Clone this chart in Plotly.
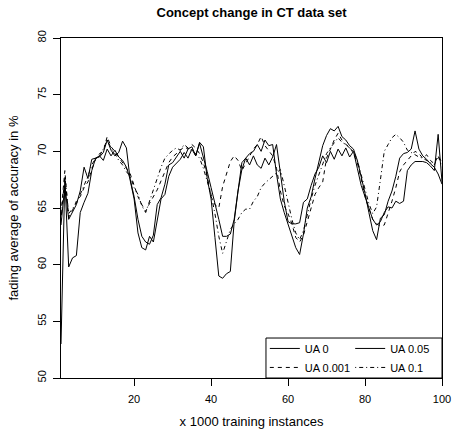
import plotly.graph_objects as go

x_vals = list(range(1, 101))

ua_0 = [53.0, 67.6, 59.8, 60.6, 60.8, 64.6, 65.5, 66.3, 68.3, 69.4,
        69.5, 69.9, 71.0, 70.1, 69.6, 69.9, 70.9, 70.3, 67.4, 65.8,
        62.8, 61.5, 61.3, 62.5, 62.0, 64.0, 65.8, 66.2, 67.8, 68.6,
        69.0, 69.3, 69.9, 69.4, 70.2, 69.6, 70.8, 70.4, 67.6, 65.8,
        62.4, 59.0, 58.8, 59.2, 59.4, 63.8, 66.5, 68.4, 69.4, 69.8,
        70.0, 70.6, 70.0, 71.0, 70.5, 70.6, 68.0, 65.8, 64.6, 63.5,
        62.4, 61.5, 60.9, 62.7, 65.0, 66.0, 67.6, 69.0, 70.5, 71.4,
        72.0, 71.8, 72.2, 71.3, 71.0, 70.5, 70.2, 69.2, 67.8, 66.3,
        64.6, 63.0, 62.2, 64.1, 64.4, 65.6, 66.5, 67.8, 69.4, 69.8,
        69.9, 70.2, 71.8, 70.2, 69.6, 69.3, 68.9, 68.6, 68.0, 67.1]

ua_0001 = [64.5, 68.3, 64.2, 64.8, 65.6, 66.0, 66.8, 67.3, 68.4, 69.3,
           69.8, 70.0, 71.3, 70.4, 70.0, 69.5, 69.0, 68.6, 68.0, 67.0,
           66.0, 65.3, 64.7, 65.4, 66.0, 66.6, 67.4, 68.2, 69.0, 69.5,
           69.8, 70.1, 70.4, 70.2, 70.6, 70.3, 69.8, 69.0, 67.8, 66.0,
           65.3, 65.0, 66.9, 68.0, 69.1, 69.6, 69.2, 68.3, 68.9, 69.5,
           70.2, 70.6, 71.3, 70.5, 70.0, 69.6, 68.5, 66.5, 65.2, 64.5,
           63.6, 62.4, 62.0, 62.6, 63.8, 65.0, 66.2, 66.8, 67.3, 69.4,
           70.2, 71.0, 71.6, 71.0, 70.6, 70.4, 69.8, 69.0, 67.6, 66.0,
           65.0, 64.0, 63.6, 63.4, 63.5, 64.5, 65.6, 66.8, 68.2, 68.8,
           69.2, 69.6, 70.0, 69.8, 69.4, 69.7, 69.2, 68.9, 69.6, 69.0]

ua_005 = [63.5, 67.0, 64.0, 64.6, 65.3, 66.5, 68.6, 67.6, 69.3, 69.4,
          69.6, 69.2, 70.2, 69.6, 70.1, 69.5, 69.2, 68.6, 67.5, 66.0,
          64.0, 62.5, 62.0, 61.8, 62.6, 65.3, 65.9, 67.1, 68.8, 69.0,
          69.5, 70.0, 69.4, 70.2, 70.4, 69.6, 70.7, 69.5, 68.2, 66.8,
          65.5, 64.0, 62.5, 62.5, 62.7, 64.0, 66.5, 69.0, 69.4, 68.8,
          69.6, 68.8, 68.5, 69.4, 68.8, 69.5, 70.6, 68.0, 65.6, 63.8,
          63.6, 63.6, 63.7, 65.5, 65.8, 67.0, 68.0, 68.6, 69.6, 69.0,
          70.0, 69.3, 70.2, 69.6, 70.3, 69.5, 70.0, 68.5, 67.0, 66.0,
          65.0, 64.0, 63.5, 63.8, 64.6, 65.1, 65.0, 65.6, 65.4, 65.6,
          68.3, 68.8, 69.1, 69.1, 69.1, 69.0, 68.7, 68.3, 71.5, 67.3]

ua_01 = [64.0, 67.8, 64.5, 65.0, 65.4, 66.2, 67.0, 67.8, 68.8, 69.4,
         69.6, 70.2, 71.0, 70.3, 69.8, 69.2, 68.8, 68.2, 67.8, 66.8,
         66.2, 65.2, 64.6, 65.6, 66.6, 67.8, 68.6, 69.4, 69.8, 70.1,
         70.3, 70.1, 70.6, 70.3, 70.0, 69.8, 69.4, 68.5, 67.3, 66.2,
         64.5, 62.5, 61.0, 62.0, 63.1, 63.6, 64.0, 64.6, 64.9, 64.9,
         65.6, 66.0, 66.8, 67.2, 67.5, 67.8, 68.1, 68.4, 67.0, 65.5,
         64.0, 62.8, 62.2, 63.0, 64.5, 65.8, 67.0, 68.0, 69.0, 69.8,
         70.3, 70.8, 71.2, 70.8, 70.6, 70.3, 70.0, 69.2, 68.0, 66.6,
         65.4, 64.5, 65.1, 67.5, 70.0, 70.6, 71.2, 71.5, 71.2, 70.8,
         70.1, 69.9, 69.7, 69.5, 69.4, 69.2, 69.0, 68.8, 69.6, 68.6]

x_ticks = [20, 40, 60, 80, 100]
y_ticks = [50, 55, 60, 65, 70, 75, 80]

FONT = "Liberation Sans, Arial, Helvetica, sans-serif"

fig = go.Figure()
series = [
    ("UA 0", ua_0, "solid", "legend"),
    ("UA 0.001", ua_0001, "4px,4px", "legend"),
    ("UA 0.05", ua_005, "solid", "legend2"),
    ("UA 0.1", ua_01, "1px,3px,4px,3px", "legend2"),
]
for name, ys, dash, lg in series:
    fig.add_trace(go.Scatter(
        x=x_vals, y=ys, mode="lines", name=name, legend=lg,
        line=dict(color="black", width=1, dash=dash),
    ))

axis_common = dict(
    showline=True, mirror=True, linecolor="black", linewidth=1,
    ticks="outside", ticklen=7, tickcolor="black", tickwidth=1,
    showgrid=False, zeroline=False, automargin=False,
    tickfont=dict(family=FONT, size=11, color="black"),
)

fig.update_layout(
    width=456, height=435,
    margin=dict(l=61, r=14, t=38, b=57),
    paper_bgcolor="white", plot_bgcolor="white",
    font=dict(family=FONT, color="black"),
    title=dict(text="<b>Concept change in CT data set</b>", x=0.5, xref="paper",
               y=1 - 12 / 435, yanchor="middle",
               font=dict(family=FONT, size=13, color="black")),
    xaxis=dict(range=[1, 100], tickvals=x_ticks, ticklabelstandoff=4,
               title=dict(text="x 1000 training instances",
                          font=dict(family=FONT, size=13, color="black"),
                          standoff=12),
               **axis_common),
    yaxis=dict(range=[50, 80], tickvals=y_ticks, tickangle=-90,
               ticklabelstandoff=3,
               title=dict(text="fading average of accuracy in %",
                          font=dict(family=FONT, size=13, color="black"),
                          standoff=14),
               **axis_common),
    legend=dict(x=0.535, y=0.059, xanchor="left", yanchor="middle",
                bgcolor="rgba(0,0,0,0)", borderwidth=0,
                font=dict(family=FONT, size=11, color="black"),
                tracegroupgap=0),
    legend2=dict(x=0.759, y=0.059, xanchor="left", yanchor="middle",
                 bgcolor="rgba(0,0,0,0)", borderwidth=0,
                 font=dict(family=FONT, size=11, color="black"),
                 tracegroupgap=0),
    shapes=[dict(type="rect", xref="paper", yref="paper",
                 x0=0.538, x1=1.0, y0=0.0, y1=0.1176,
                 line=dict(color="black", width=1), fillcolor="white",
                 layer="above")],
    showlegend=True,
)

fig.write_html("out.html",
               config={"displayModeBar": False},
               post_script="document.body.style.margin='0';document.body.style.padding='0';")
